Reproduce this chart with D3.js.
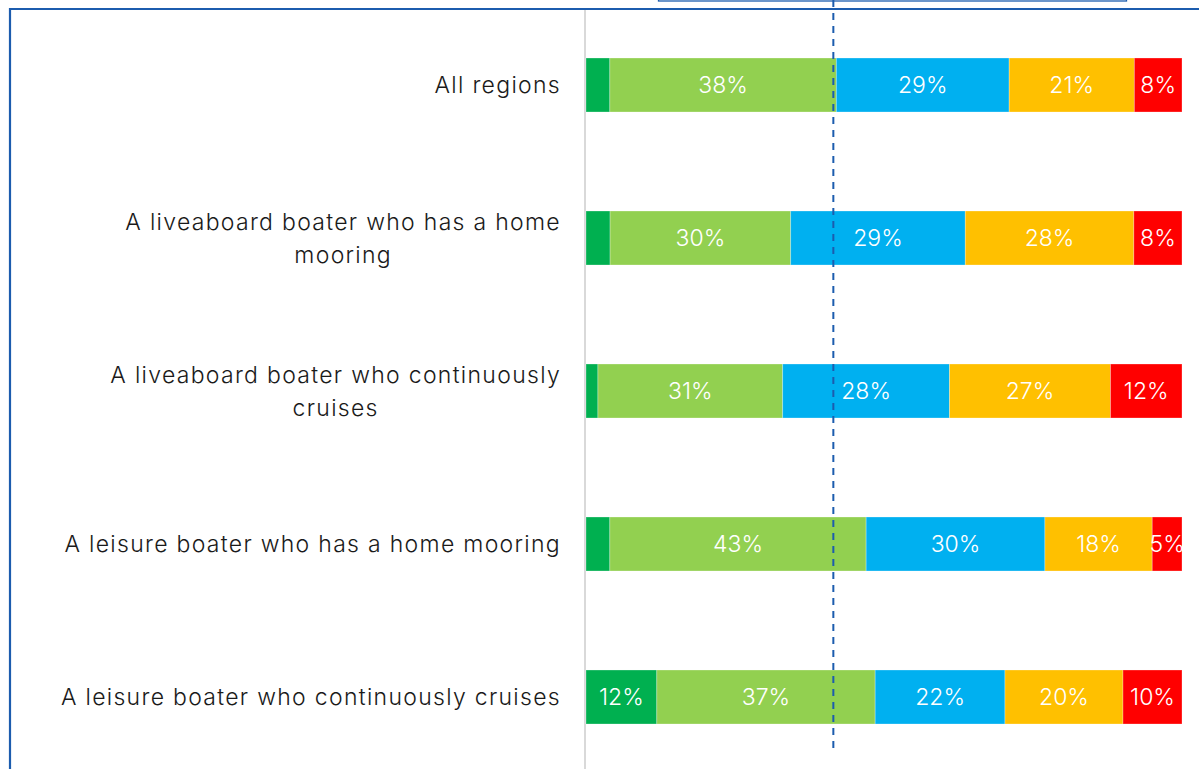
<!DOCTYPE html>
<html>
<head>
<meta charset="utf-8">
<script src="https://cdn.jsdelivr.net/npm/d3@7"></script>
<style>
  html, body { margin: 0; padding: 0; background: #fff; }
  svg { display: block; }
  text { font-family: "Inter", "Noto Sans", sans-serif; font-weight: 300; }
</style>
</head>
<body>
<svg id="chart" width="1199" height="769"></svg>
<script>
// Boater groups (top to bottom); "\n" marks a wrapped label line
const categories = [
  "All regions",
  "A liveaboard boater who has a home\nmooring",
  "A liveaboard boater who continuously\ncruises",
  "A leisure boater who has a home mooring",
  "A leisure boater who continuously cruises"
];

// Response shares (%) per group, one array per answer option
const stronglyAgree    = [4, 4, 2, 4, 12];
const agree            = [38, 30, 31, 43, 37];
const neutral          = [29, 29, 28, 30, 22];
const disagree         = [21, 28, 27, 18, 20];
const stronglyDisagree = [8, 8, 12, 5, 10];

const seriesNames  = ["stronglyAgree", "agree", "neutral", "disagree", "stronglyDisagree"];
const seriesValues = [stronglyAgree, agree, neutral, disagree, stronglyDisagree];
const seriesColors = ["#00b050", "#92d050", "#00b0f0", "#ffc000", "#ff0000"];

// Reference marker on the percentage axis
const referenceValue = 41.5;

// Values below this share stay unlabelled
const minLabelValue = 5;

const svg = d3.select("#chart");
const W = 1199, H = 769;
const frameColor = "#1c5cae";

// rows of the table for the stack layout
const rows = categories.map((c, i) => {
  const r = { category: c };
  seriesNames.forEach((s, k) => r[s] = seriesValues[k][i]);
  r.total = d3.sum(seriesValues, v => v[i]);
  return r;
});

const stacked = d3.stack().keys(seriesNames)(rows);

const plotLeft = 586, plotRight = 1182;
const x = d3.scaleLinear().domain([0, 100]).range([plotLeft, plotRight]);

const y = d3.scaleBand()
  .domain(categories)
  .range([8.5, 773.5])
  .paddingInner(0.647)
  .paddingOuter(0.3235);

// each bar fills the full width (shares normalised to the row total)
const xs = (d, v) => x(v * 100 / d.data.total);

// frame lines
svg.append("line")
  .attr("x1", 10).attr("x2", W).attr("y1", 9).attr("y2", 9)
  .attr("stroke", frameColor).attr("stroke-width", 2.2);
svg.append("line")
  .attr("x1", 10).attr("x2", 10).attr("y1", 8).attr("y2", H)
  .attr("stroke", frameColor).attr("stroke-width", 2.2);

// legend box edge peeking in at the top
svg.append("rect")
  .attr("x", 658.5).attr("y", -30).attr("width", 468).attr("height", 31)
  .attr("fill", "none").attr("stroke", frameColor).attr("stroke-width", 1.3);

// category axis line
svg.append("line")
  .attr("x1", 585).attr("x2", 585).attr("y1", 10).attr("y2", H)
  .attr("stroke", "#d9d9d9").attr("stroke-width", 2);

// stacked bars
const groups = svg.append("g").selectAll("g")
  .data(stacked)
  .join("g")
  .attr("fill", (d, i) => seriesColors[i]);

groups.selectAll("rect")
  .data(d => d)
  .join("rect")
  .attr("x", d => xs(d, d[0]))
  .attr("width", d => xs(d, d[1]) - xs(d, d[0]))
  .attr("y", d => y(d.data.category))
  .attr("height", y.bandwidth())
  .attr("stroke", "rgba(255,255,255,0.35)")
  .attr("stroke-width", 0.8);

// value labels
groups.selectAll("text")
  .data(d => d)
  .join("text")
  .filter(d => (d[1] - d[0]) >= minLabelValue)
  .attr("x", d => (xs(d, d[0]) + xs(d, d[1])) / 2)
  .attr("y", d => y(d.data.category) + y.bandwidth() / 2)
  .attr("dy", "0.36em")
  .attr("text-anchor", "middle")
  .attr("fill", "#fff")
  .attr("font-size", 23)
  .text(d => (d[1] - d[0]) + "%");

// category labels: block right-aligned, lines centred within the block
const labelRight = 561, lineHeight = 33;
categories.forEach(c => {
  const lines = c.split("\n");
  const t = svg.append("text")
    .attr("font-size", 23)
    .attr("letter-spacing", 1.3)
    .attr("fill", "#1a1a1a")
    .attr("text-anchor", "middle");
  const cy = y(c) + y.bandwidth() / 2;
  const y0 = cy - (lines.length - 1) * lineHeight / 2;
  lines.forEach((ln, i) => {
    t.append("tspan").attr("y", y0 + i * lineHeight).attr("dy", "0.36em").text(ln);
  });
  const w = d3.max(t.selectAll("tspan").nodes(), n => n.getComputedTextLength());
  t.selectAll("tspan").attr("x", labelRight - w / 2);
});

// dashed reference line
svg.append("line")
  .attr("x1", x(referenceValue)).attr("x2", x(referenceValue))
  .attr("y1", 0).attr("y2", 752)
  .attr("stroke", frameColor).attr("stroke-width", 2)
  .attr("stroke-dasharray", "7,6");
</script>
</body>
</html>
